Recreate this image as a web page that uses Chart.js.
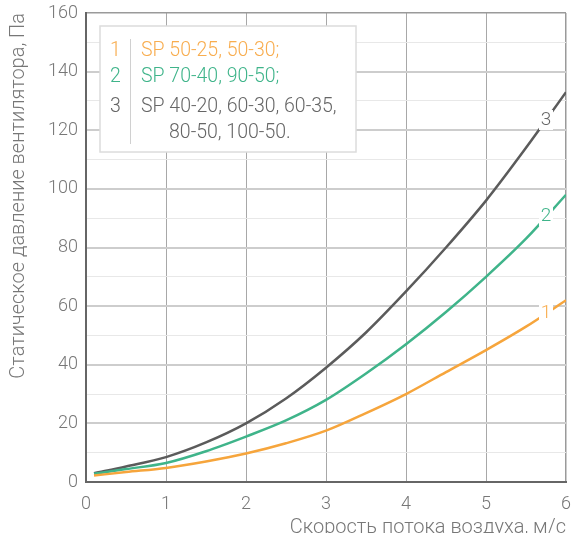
<!DOCTYPE html>
<html>
<head>
<meta charset="utf-8">
<script src="https://cdn.jsdelivr.net/npm/chart.js@4"></script>
<style>
  html, body { margin: 0; padding: 0; background: #fff; }
  #wrap { width: 571px; height: 533px; position: relative; }
</style>
</head>
<body>
<div id="wrap"><canvas id="chart"></canvas></div>
<script>
// Air velocity, m/s
const velocity = [0.1, 0.5, 1, 1.5, 2, 2.5, 3, 3.5, 4, 4.5, 5, 5.5, 6];
// Static pressure, Pa, for each fan group
const pressure1 = [2.2, 3.4, 4.8, 7.0, 9.7, 13.2, 17.5, 23.5, 30, 37.5, 45, 53, 62];
const pressure2 = [2.8, 4.4, 6.5, 10.5, 15.5, 21, 28, 37, 47, 58, 70, 83, 98];
const pressure3 = [3.0, 5.3, 8.5, 13.5, 20, 28.5, 39, 51, 65, 80, 96, 114, 133];
const curveNames = ['1', '2', '3'];
const legendNames = [
  ['SP 50-25, 50-30;'],
  ['SP 70-40, 90-50;'],
  ['SP 40-20, 60-30, 60-35,', '80-50, 100-50.']
];
const xTicks = [0, 1, 2, 3, 4, 5, 6];
const yTicks = [0, 20, 40, 60, 80, 100, 120, 140, 160];

const lineColors = ['#f6a53c', '#3fb48a', '#5b5b5b'];
const textColors = ['#f8ad4f', '#3fb48a', '#666666'];
const FONT = 'Roboto, "Open Sans", sans-serif';

const series = [pressure1, pressure2, pressure3].map((vals, i) => ({
  label: curveNames[i],
  data: velocity.map((v, k) => ({ x: v, y: vals[k] })),
  borderColor: lineColors[i],
  borderWidth: 2.5,
  pointRadius: 0,
  fill: false,
  cubicInterpolationMode: 'monotone'
}));

// Curve numbers placed on each line near its end, plus the boxed key
const annotations = {
  id: 'annotations',
  afterDatasetsDraw(chart) {
    const { ctx, scales: { x, y } } = chart;
    ctx.save();
    ctx.font = '300 19px ' + FONT;
    ctx.textAlign = 'center';
    ctx.textBaseline = 'middle';
    const at = 5.75;
    chart.data.datasets.forEach((ds, i) => {
      const pts = ds.data;
      let a = pts[0], b = pts[1];
      for (let k = 1; k < pts.length; k++) {
        if (pts[k].x >= at) { a = pts[k - 1]; b = pts[k]; break; }
      }
      const val = a.y + (b.y - a.y) * (at - a.x) / (b.x - a.x);
      const px = x.getPixelForValue(at);
      const py = y.getPixelForValue(val);
      ctx.fillStyle = '#ffffff';
      ctx.fillRect(px - 7, py - 10, 14, 20);
      ctx.fillStyle = textColors[i];
      ctx.fillText(ds.label, px, py);
    });

    // key box
    const bx = 100, by = 26, bw = 256, bh = 126;
    ctx.fillStyle = '#ffffff';
    ctx.fillRect(bx, by, bw, bh);
    ctx.strokeStyle = '#dcdcdc';
    ctx.lineWidth = 1.5;
    ctx.strokeRect(bx, by, bw, bh);
    ctx.strokeStyle = '#d0d0d0';
    ctx.lineWidth = 1;
    ctx.beginPath();
    ctx.moveTo(130.5, 39);
    ctx.lineTo(130.5, 144);
    ctx.stroke();
    ctx.font = '300 19.5px ' + FONT;
    ctx.textAlign = 'left';
    const rows = [51, 77, 107];
    legendNames.forEach((lines, i) => {
      ctx.fillStyle = textColors[i];
      ctx.fillText(curveNames[i], 110, rows[i]);
      lines.forEach((t, j) => ctx.fillText(t, j === 0 ? 141 : 169, rows[i] + j * 26));
    });
    ctx.restore();
  }
};

new Chart(document.getElementById('chart'), {
  type: 'line',
  data: { datasets: series },
  options: {
    responsive: true,
    maintainAspectRatio: false,
    animation: false,
    layout: { padding: { top: 13, right: 5, left: 0, bottom: 0 } },
    plugins: { legend: { display: false }, tooltip: { enabled: false } },
    scales: {
      x: {
        type: 'linear',
        min: 0, max: 6,
        afterFit(scale) { scale.height = 51; scale.paddingLeft = 0; scale.paddingRight = 0; },
        afterBuildTicks(scale) { scale.ticks = xTicks.map(v => ({ value: v })); },
        ticks: {
          padding: 12,
          color: '#777777',
          font: { family: FONT, size: 18, weight: 300 }
        },
        grid: {
          drawTicks: false,
          color: c => (c.tick && c.tick.value === 6) ? '#9a9a9a' : '#a8a8a8',
          lineWidth: c => (c.tick && c.tick.value === 6) ? 1.5 : 1
        },
        border: { color: '#666666', width: 2 },
        title: {
          display: true,
          text: 'Скорость потока воздуха, м/с',
          align: 'end',
          color: '#777777',
          font: { family: FONT, size: 20, weight: 300, lineHeight: 0.55 },
          padding: { top: 0, bottom: 0 }
        }
      },
      y: {
        min: 0, max: 160,
        afterFit(scale) { scale.width = 86; scale.paddingTop = 0; scale.paddingBottom = 0; },
        ticks: {
          stepSize: 10,
          autoSkip: false,
          padding: 8,
          color: '#777777',
          font: { family: FONT, size: 18, weight: 300 },
          callback: v => yTicks.includes(v) ? String(v) : ''
        },
        grid: {
          drawTicks: false,
          color: c => {
            const v = c.tick ? c.tick.value : 0;
            if (v === 160) return '#9a9a9a';
            return v % 20 === 0 ? '#cdcdcd' : '#e8e8e8';
          },
          lineWidth: c => {
            const v = c.tick ? c.tick.value : 0;
            if (v === 160) return 1.5;
            return v % 20 === 0 ? 2 : 1;
          }
        },
        border: { color: '#666666', width: 2 },
        title: {
          display: true,
          text: 'Статическое давление вентилятора, Па',
          align: 'end',
          color: '#777777',
          font: { family: FONT, size: 20, weight: 300, lineHeight: 1.2 },
          padding: { top: 7, bottom: 0 }
        }
      }
    }
  },
  plugins: [annotations]
});
</script>
</body>
</html>
